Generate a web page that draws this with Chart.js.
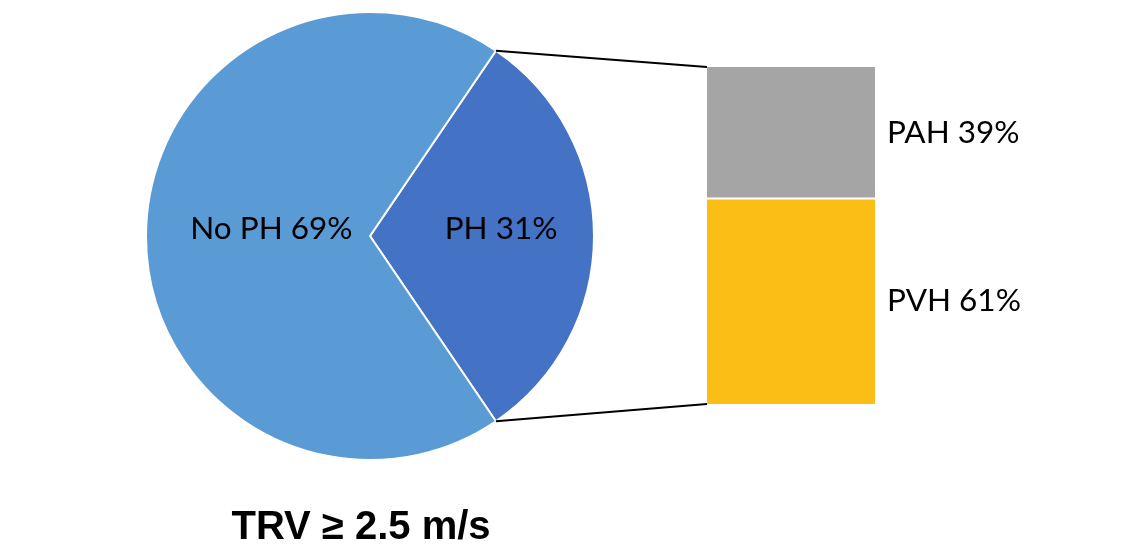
<!DOCTYPE html>
<html>
<head>
<meta charset="utf-8">
<script src="https://cdn.jsdelivr.net/npm/chart.js@4"></script>
<style>
  html, body { margin: 0; padding: 0; background: #fff; }
  #wrap { position: relative; width: 1145px; height: 547px; }
  #wrap canvas { position: absolute; left: 0; top: 0; }
</style>
</head>
<body>
<div id="wrap">
  <canvas id="pie" width="1145" height="547"></canvas>
  <canvas id="bar" width="1145" height="547"></canvas>
</div>
<script>
// ---- data ----
const pieLabels = ['PH', 'No PH'];
const pieValues = [31, 69];
const pieColors = ['#4472C4', '#5B9BD5'];

const barLabels = ['PVH', 'PAH'];   // bottom to top
const barValues = [61, 39];
const barColors = ['#FBBE14', '#A5A5A5'];

const titleText = 'TRV \u2265 2.5 m/s';

const labelFont = '31.5px Lato, "Open Sans", sans-serif';

// ---- pie chart ----
const pieLabelPlugin = {
  id: 'pieLabels',
  afterDatasetsDraw(chart) {
    const ctx = chart.ctx;
    const meta = chart.getDatasetMeta(0);
    const factors = [0.585, 0.44];
    ctx.save();
    ctx.font = labelFont;
    ctx.fillStyle = '#000';
    ctx.textAlign = 'center';
    ctx.textBaseline = 'middle';
    meta.data.forEach((arc, i) => {
      const mid = (arc.startAngle + arc.endAngle) / 2;
      const r = arc.outerRadius * factors[i];
      const x = arc.x + Math.cos(mid) * r;
      const y = arc.y + Math.sin(mid) * r - 7;
      ctx.fillText(pieLabels[i] + ' ' + pieValues[i] + '%', x, y);
    });
    ctx.restore();
  }
};

const titlePlugin = {
  id: 'bottomTitle',
  afterDraw(chart) {
    const ctx = chart.ctx;
    const meta = chart.getDatasetMeta(0);
    const arc = meta.data[0];
    ctx.save();
    ctx.font = 'bold 40px "Liberation Sans", Arial, sans-serif';
    ctx.fillStyle = '#000';
    ctx.textAlign = 'center';
    ctx.textBaseline = 'middle';
    ctx.fillText(titleText, arc.x - 9, 528);
    ctx.restore();
  }
};

const pieChart = new Chart(document.getElementById('pie'), {
  type: 'pie',
  data: {
    labels: pieLabels,
    datasets: [{
      data: pieValues,
      backgroundColor: pieColors,
      borderColor: '#ffffff',
      borderWidth: 2
    }]
  },
  options: {
    responsive: false,
    animation: false,
    rotation: 90 - (pieValues[0] / 100) * 180,
    layout: { padding: { left: 145, right: 550, top: 11, bottom: 86 } },
    plugins: { legend: { display: false }, tooltip: { enabled: false }, title: { display: false } }
  },
  plugins: [pieLabelPlugin, titlePlugin]
});

// ---- stacked bar ----
const barDecor = {
  id: 'barDecor',
  afterDatasetsDraw(chart) {
    const ctx = chart.ctx;
    const area = chart.chartArea;
    const yScale = chart.scales.y;
    // connector lines from pie slice edges to bar corners
    const arc = pieChart.getDatasetMeta(0).data[0];
    const sx1 = arc.x + Math.cos(arc.startAngle) * arc.outerRadius;
    const sy1 = arc.y + Math.sin(arc.startAngle) * arc.outerRadius;
    const sx2 = arc.x + Math.cos(arc.endAngle) * arc.outerRadius;
    const sy2 = arc.y + Math.sin(arc.endAngle) * arc.outerRadius;
    const total = barValues.reduce((a, b) => a + b, 0);
    ctx.save();
    ctx.strokeStyle = '#000';
    ctx.lineWidth = 2;
    ctx.beginPath();
    ctx.moveTo(sx1, sy1);
    ctx.lineTo(area.left, yScale.getPixelForValue(total));
    ctx.moveTo(sx2, sy2);
    ctx.lineTo(area.left, yScale.getPixelForValue(0));
    ctx.stroke();
    // separator between segments
    ctx.strokeStyle = '#fff';
    ctx.lineWidth = 2;
    const sepY = yScale.getPixelForValue(barValues[0]);
    ctx.beginPath();
    ctx.moveTo(area.left, sepY);
    ctx.lineTo(area.right, sepY);
    ctx.stroke();
    // labels
    ctx.font = labelFont;
    ctx.fillStyle = '#000';
    ctx.textAlign = 'left';
    ctx.textBaseline = 'middle';
    let cum = 0;
    barValues.forEach((v, i) => {
      const yMid = yScale.getPixelForValue(cum + v / 2);
      cum += v;
      ctx.fillText(barLabels[i] + ' ' + v + '%', area.right + 12, yMid);
    });
    ctx.restore();
  }
};

new Chart(document.getElementById('bar'), {
  type: 'bar',
  data: {
    labels: [''],
    datasets: barValues.map((v, i) => ({
      label: barLabels[i],
      data: [v],
      backgroundColor: barColors[i],
      borderWidth: 0,
      categoryPercentage: 1,
      barPercentage: 1
    }))
  },
  options: {
    responsive: false,
    animation: false,
    layout: { padding: { left: 707, right: 270, top: 67, bottom: 143 } },
    scales: {
      x: { stacked: true, display: false },
      y: { stacked: true, display: false, min: 0, max: 100 }
    },
    plugins: { legend: { display: false }, tooltip: { enabled: false } }
  },
  plugins: [barDecor]
});
</script>
</body>
</html>
